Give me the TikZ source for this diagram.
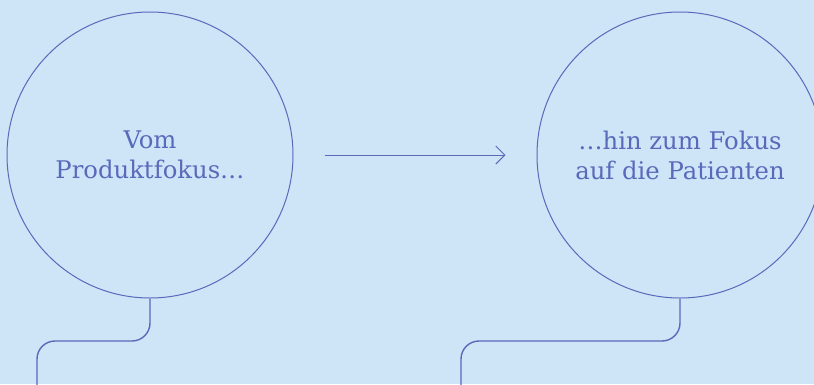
\documentclass[tikz,border=0pt]{standalone}
\usepackage{fontspec}
\setmainfont{DejaVu Serif}
\usetikzlibrary{arrows.meta}
\definecolor{bg}{RGB}{206,228,247}
\definecolor{ink}{RGB}{88,106,186}
\tikzset{
  bubble/.style={circle, draw=ink, line width=1pt, minimum size=286pt, inner sep=0pt,
    align=center, text=ink, font=\fontsize{24.3}{30}\selectfont},
  link/.style={draw=ink, line width=1.4pt, rounded corners=18pt},
  flow/.style={draw=ink, line width=1pt, -{Straight Barb[length=9pt,width=18pt,line width=1pt]}}
}
\begin{document}
\begin{tikzpicture}[x=1pt,y=-1pt]
\useasboundingbox (0,0) rectangle (814,384);
\clip (0,0) rectangle (814,384);
\fill[bg] (0,0) rectangle (814,384);
\node[bubble] (c1) at (150,155) {Vom\\Produktfokus…};
\node[bubble] (c2) at (680,155) {…hin zum Fokus\\auf die Patienten};
\coordinate (e1) at (37,390);
\coordinate (e2) at (461,390);
\draw[link] (c1.south) -- (c1.south |- 0,341) -- (e1 |- 0,341) -- (e1);
\draw[link] (c2.south) -- (c2.south |- 0,341) -- (e2 |- 0,341) -- (e2);
\draw[flow, shorten <=31pt, shorten >=31pt] (c1.east) -- (c2.west);
\end{tikzpicture}
\end{document}
